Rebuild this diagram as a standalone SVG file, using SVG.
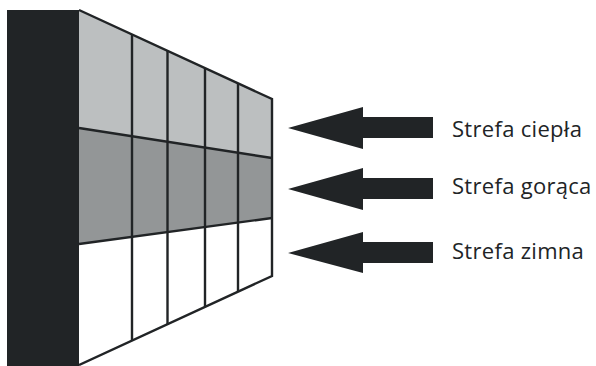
<svg xmlns="http://www.w3.org/2000/svg" width="596" height="366" viewBox="0 0 596 366">
<style>
.ln{stroke:#212426;stroke-width:2.4;fill:none;stroke-linejoin:miter}
.dk{fill:#212426}
.lbl{font-family:"Open Sans","Noto Sans",sans-serif;font-size:22px;letter-spacing:0.3px;fill:#212426}
</style>
<rect width="596" height="366" fill="#ffffff"/>
<g id="wall">
<rect class="dk" x="7" y="10" width="72" height="356"/>
</g>
<g id="zone-warm">
<polygon points="79,10 272,99 272,158 79,128" fill="#bcbfc0"/>
</g>
<g id="zone-hot">
<polygon points="79,128 272,158 272,218 79,244" fill="#939697"/>
</g>
<g id="zone-cold">
<polygon points="79,244 272,218 272,276 79,365" fill="#ffffff"/>
</g>
<g id="grid">
<polyline class="ln" points="79,10 272,99 272,276 79,365"/>
<line class="ln" x1="79" y1="128" x2="272" y2="158"/>
<line class="ln" x1="79" y1="244" x2="272" y2="218"/>
<line class="ln" x1="132" y1="34.4" x2="132" y2="340.6"/>
<line class="ln" x1="167.5" y1="50.8" x2="167.5" y2="324.2"/>
<line class="ln" x1="205" y1="68.1" x2="205" y2="306.9"/>
<line class="ln" x1="238" y1="83.3" x2="238" y2="291.7"/>
</g>
<g id="connectors">
<polygon class="dk" points="288,128 363,107 363,117 433,117 433,138 363,138 363,149"/>
<polygon class="dk" points="288,189 363,168 363,178 433,178 433,199 363,199 363,210"/>
<polygon class="dk" points="288,253 363,232 363,242 433,242 433,263 363,263 363,273"/>
</g>
<g id="label-warm"><text class="lbl" x="452" y="137">Strefa ciepła</text></g>
<g id="label-hot"><text class="lbl" x="452" y="194">Strefa gorąca</text></g>
<g id="label-cold"><text class="lbl" x="452" y="259">Strefa zimna</text></g>
</svg>
